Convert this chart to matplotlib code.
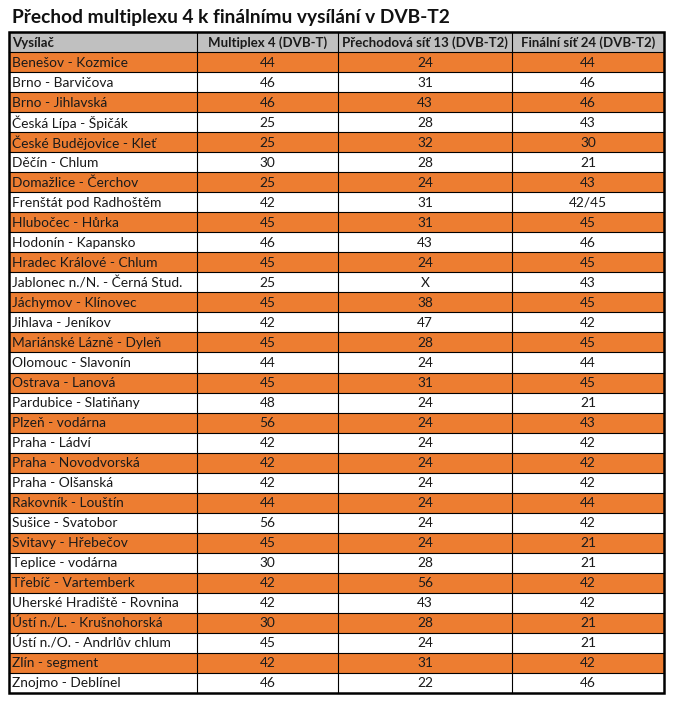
import matplotlib.pyplot as plt
from matplotlib.patches import Rectangle

# Table data
title = "Přechod multiplexu 4 k finálnímu vysílání v DVB-T2"
headers = ["Vysílač", "Multiplex 4 (DVB-T)", "Přechodová síť 13 (DVB-T2)", "Finální síť 24 (DVB-T2)"]
stations = [
    "Benešov - Kozmice", "Brno - Barvičova", "Brno - Jihlavská", "Česká Lípa - Špičák",
    "České Budějovice - Kleť", "Děčín - Chlum", "Domažlice - Čerchov", "Frenštát pod Radhoštěm",
    "Hlubočec - Hůrka", "Hodonín - Kapansko", "Hradec Králové - Chlum", "Jablonec n./N. - Černá Stud.",
    "Jáchymov - Klínovec", "Jihlava - Jeníkov", "Mariánské Lázně - Dyleň", "Olomouc - Slavonín",
    "Ostrava - Lanová", "Pardubice - Slatiňany", "Plzeň - vodárna", "Praha - Ládví",
    "Praha - Novodvorská", "Praha - Olšanská", "Rakovník - Louštín", "Sušice - Svatobor",
    "Svitavy - Hřebečov", "Teplice - vodárna", "Třebíč - Vartemberk", "Uherské Hradiště - Rovnina",
    "Ústí n./L. - Krušnohorská", "Ústí n./O. - Andrlův chlum", "Zlín - segment", "Znojmo - Deblínel",
]
mux4 = ["44", "46", "46", "25", "25", "30", "25", "42", "45", "46", "45", "25", "45", "42", "45", "44",
        "45", "48", "56", "42", "42", "42", "44", "56", "45", "30", "42", "42", "30", "45", "42", "46"]
net13 = ["24", "31", "43", "28", "32", "28", "24", "31", "31", "43", "24", "X", "38", "47", "28", "24",
         "31", "24", "24", "24", "24", "24", "24", "24", "24", "28", "56", "43", "28", "24", "31", "22"]
net24 = ["44", "46", "46", "43", "30", "21", "43", "42/45", "45", "46", "45", "43", "45", "42", "45", "44",
         "45", "21", "43", "42", "42", "42", "44", "42", "21", "21", "42", "42", "21", "21", "42", "46"]

# layout (pixels)
W, H = 674, 702
col_x = [9, 197, 338, 512, 664]
top, row_h = 32, 20.03
orange = "#ED7D31"
grey = "#C0C0C0"

plt.rcParams['font.family'] = ['Lato', 'DejaVu Sans']

fig = plt.figure(figsize=(W / 100, H / 100), dpi=100)
ax = fig.add_axes([0, 0, 1, 1])
ax.set_xlim(0, W)
ax.set_ylim(H, 0)
ax.axis('off')

ax.text(12, 17, title, fontsize=13.8, fontweight='bold', va='center', ha='left', color='#111')

rows = [headers] + [[s, a, b, c] for s, a, b, c in zip(stations, mux4, net13, net24)]
for r, row in enumerate(rows):
    y0 = top + r * row_h
    if r == 0:
        fc = grey
    elif r % 2 == 1:
        fc = orange
    else:
        fc = "white"
    ax.add_patch(Rectangle((col_x[0], y0), col_x[-1] - col_x[0], row_h, facecolor=fc, edgecolor='none'))
    ax.plot([col_x[0], col_x[-1]], [y0, y0], color='black', lw=0.8)
    weight = 'bold' if r == 0 else 'normal'
    fs = 9.5 if r == 0 else 9.9
    for c, val in enumerate(row):
        if c == 0:
            ax.text(col_x[0] + 3, y0 + row_h / 2 + 0.5, val, fontsize=fs, va='center', ha='left',
                    fontweight=weight, color='#1a1a1a')
        else:
            ax.text((col_x[c] + col_x[c + 1]) / 2, y0 + row_h / 2 + 0.5, val, fontsize=fs, va='center',
                    ha='center', fontweight=weight, color='#1a1a1a')

bottom = top + len(rows) * row_h
for x in col_x[1:-1]:
    ax.plot([x, x], [top, bottom], color='black', lw=0.8)
ax.add_patch(Rectangle((col_x[0], top), col_x[-1] - col_x[0], bottom - top, facecolor='none',
                       edgecolor='black', lw=1.8))

fig.savefig("out.png", dpi=100)
